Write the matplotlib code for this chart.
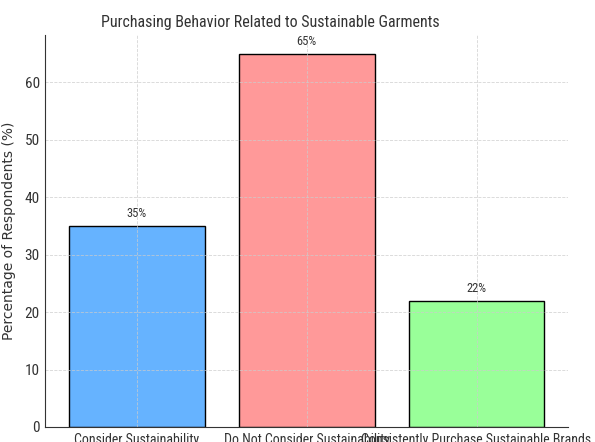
import matplotlib
matplotlib.use("Agg")
import matplotlib.pyplot as plt

# data
categories = ["Consider Sustainability", "Do Not Consider Sustainability",
              "Consistently Purchase Sustainable Brands"]
percentages = [35, 65, 22]
bar_colors = ["#66b3ff", "#ff9999", "#99ff99"]

narrow = ["Roboto Condensed", "DejaVu Sans"]
text_color = "#333333"

fig = plt.figure(figsize=(5.95, 4.42), dpi=100)
ax = fig.add_axes([0.076, 0.034, 0.879, 0.887])

bars = ax.bar(categories, percentages, color=bar_colors, edgecolor="black", width=0.8)

# value labels on top of bars
for b, v in zip(bars, percentages):
    ax.text(b.get_x() + b.get_width() / 2, v + 1, f"{v}%", ha="center", va="bottom",
            fontsize=9, family=narrow, color=text_color)

title = ax.set_title("Purchasing Behavior Related to Sustainable Garments", fontsize=11.5,
                     family=narrow, color=text_color, pad=6)
title.set_x(0.43)
ax.set_ylabel("Percentage of Respondents (%)", fontsize=10, color=text_color, labelpad=6)

ax.set_xticks(range(len(categories)))
ax.set_xticklabels(categories, family=narrow, fontsize=10, color=text_color)
for lbl in ax.get_yticklabels():
    lbl.set_family(narrow)
    lbl.set_fontsize(11)
    lbl.set_color(text_color)
ax.tick_params(length=0, pad=4)

ax.grid(True, linestyle="--", linewidth=0.6, color="#cccccc", alpha=0.8)
for s in ["top", "right"]:
    ax.spines[s].set_visible(False)
ax.spines["left"].set_color("#333333")
ax.spines["bottom"].set_color("#333333")

fig.savefig("out.png", dpi=100)
